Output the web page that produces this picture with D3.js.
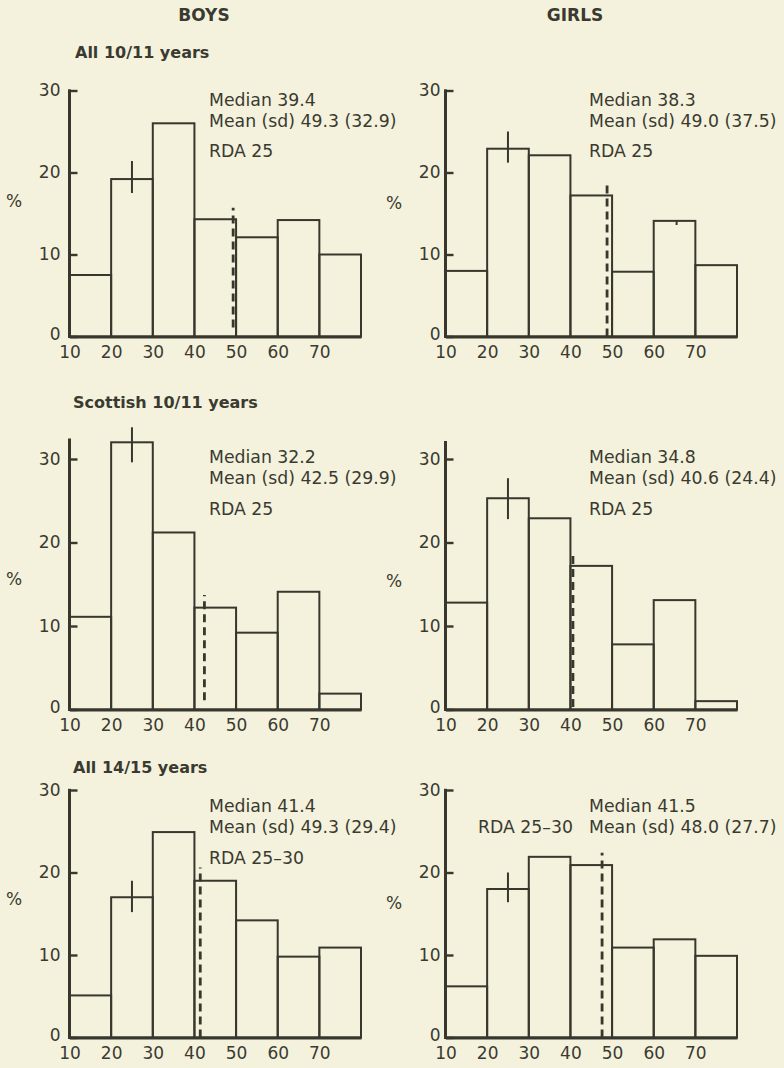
<!DOCTYPE html>
<html>
<head>
<meta charset="utf-8">
<script src="https://cdn.jsdelivr.net/npm/d3@7"></script>
<style>
  html, body { margin: 0; padding: 0; background: #f4f2dc; }
  svg { display: block; }
  text { font-family: "DejaVu Sans", sans-serif; fill: #3a3a31; }
</style>
</head>
<body>
<svg id="chart" width="784" height="1068"></svg>
<script>
// ---------- data ----------
const columnTitles = ["BOYS", "GIRLS"];
const rowTitles = ["All 10/11 years", "Scottish 10/11 years", "All 14/15 years"];
const binEdges = [10, 20, 30, 40, 50, 60, 70, 80];
const xTickLabels = [10, 20, 30, 40, 50, 60, 70];
const yTickValues = [0, 10, 20, 30];

const boysAll1011   = [7.5, 19.2, 26.0, 14.3, 12.1, 14.2, 10.0];
const girlsAll1011  = [8.0, 22.9, 22.1, 17.2, 7.9, 14.1, 8.7];
const boysScot1011  = [11.1, 32.0, 21.2, 12.2, 9.2, 14.1, 1.9];
const girlsScot1011 = [12.8, 25.3, 22.9, 17.2, 7.8, 13.1, 1.0];
const boysAll1415   = [5.1, 17.0, 24.9, 19.0, 14.2, 9.8, 10.9];
const girlsAll1415  = [6.2, 18.0, 21.9, 20.9, 10.9, 11.9, 9.9];

// error bars: [x, low, high]
const boysAll1011Err   = [[25, 17.5, 21.4]];
const girlsAll1011Err  = [[25, 21.2, 25.0], [65.5, 13.6, 14.1]];
const boysScot1011Err  = [[25, 29.6, 33.8]];
const girlsScot1011Err = [[25, 22.8, 27.7]];
const boysAll1415Err   = [[25, 15.2, 19.0]];
const girlsAll1415Err  = [[25, 16.4, 20.0]];

// dashed reference line
const dashX      = [49.3, 48.8, 42.4, 40.6, 41.4, 47.6];
const dashTop    = [15.7, 18.8, 13.7, 18.8, 20.6, 22.4];
const dashBottom = [1.1, 0, 1.1, 0.3, 0, 0];
const axisTops   = [30, 30, 32.3, 32.0, 30, 30];

// statistics
const medians = ["39.4", "38.3", "32.2", "34.8", "41.4", "41.5"];
const means   = ["49.3", "49.0", "42.5", "40.6", "49.3", "48.0"];
const sds     = ["32.9", "37.5", "29.9", "24.4", "29.4", "27.7"];
const rdas    = ["25", "25", "25", "25", "25\u201330", "25\u201330"];

const panelValues = [boysAll1011, girlsAll1011, boysScot1011, girlsScot1011, boysAll1415, girlsAll1415];
const panelErrors = [boysAll1011Err, girlsAll1011Err, boysScot1011Err, girlsScot1011Err, boysAll1415Err, girlsAll1415Err];

// ---------- layout ----------
const colAxisX = [69.5, 445.5];
const colWidth = 291.5;
const colYLabelGap = [9, 5];
const colPctX = [14, 394];
const colStatX = [209, 589];
const colTitleX = [204, 575];
const rowY0 = [336.5, 709.5, 1037.5];
const rowY30 = [90.5, 459, 790];
const rowTitleY = [58, 408, 773];
const rowTitleX = [75, 73, 73];
const rowPctY = [[201, 203], [579, 581], [899, 903]];
const rowStatY = [[106, 127, 157], [463, 484, 515], [812, 833, 864]];

const ink = "#37372e";
const svg = d3.select("#chart");

// column headings
columnTitles.forEach((t, c) => {
  svg.append("text").attr("x", colTitleX[c]).attr("y", 21)
    .attr("text-anchor", "middle").attr("font-size", 17).attr("font-weight", "bold")
    .text(t);
});
// row titles
rowTitles.forEach((t, r) => {
  svg.append("text").attr("x", rowTitleX[r]).attr("y", rowTitleY[r])
    .attr("font-size", 16).attr("font-weight", "bold").text(t);
});

panelValues.forEach((vals, i) => {
  const r = Math.floor(i / 2), c = i % 2;
  const x = d3.scaleLinear().domain([binEdges[0], binEdges[binEdges.length - 1]])
    .range([colAxisX[c], colAxisX[c] + colWidth]);
  const y = d3.scaleLinear().domain([0, 30]).range([rowY0[r], rowY30[r]]);
  const g = svg.append("g");

  // bars
  g.selectAll("rect.bar").data(vals).enter().append("rect")
    .attr("class", "bar")
    .attr("x", (d, k) => x(binEdges[k]))
    .attr("width", (d, k) => x(binEdges[k + 1]) - x(binEdges[k]))
    .attr("y", d => y(d))
    .attr("height", d => y(0) - y(d))
    .attr("fill", "none").attr("stroke", ink).attr("stroke-width", 2);

  // error bars
  g.selectAll("line.err").data(panelErrors[i]).enter().append("line")
    .attr("x1", d => x(d[0])).attr("x2", d => x(d[0]))
    .attr("y1", d => y(d[1])).attr("y2", d => y(d[2]))
    .attr("stroke", ink).attr("stroke-width", 2);

  // dashed line
  g.append("line")
    .attr("x1", x(dashX[i])).attr("x2", x(dashX[i]))
    .attr("y1", y(dashBottom[i])).attr("y2", y(dashTop[i]))
    .attr("stroke", ink).attr("stroke-width", 2.8)
    .attr("stroke-dasharray", "8,5");

  // x axis
  const xAxis = d3.axisBottom(x).tickValues(xTickLabels).tickSize(0).tickPadding(9)
    .tickFormat(d3.format("d"));
  const gx = g.append("g").attr("transform", `translate(0,${y(0)})`).call(xAxis);
  gx.select(".domain").attr("stroke", ink).attr("stroke-width", 3);
  gx.selectAll("text").attr("font-size", 17).attr("fill", ink)
    .style("font-family", "'DejaVu Sans', sans-serif");

  // y axis (ticks to the right, labels left)
  const yAxis = d3.axisRight(y).tickValues(yTickValues).tickSize(8).tickFormat(d3.format("d"));
  const gy = g.append("g").attr("transform", `translate(${colAxisX[c]},0)`).call(yAxis);
  gy.select(".domain").remove();
  gy.selectAll(".tick line").attr("stroke", ink).attr("stroke-width", 2.4);
  gy.selectAll(".tick text").attr("x", -colYLabelGap[c]).attr("text-anchor", "end")
    .attr("font-size", 17).attr("fill", ink)
    .attr("dy", d => d === 0 ? "0.2em" : "0.32em")
    .style("font-family", "'DejaVu Sans', sans-serif");
  g.append("line")
    .attr("x1", colAxisX[c]).attr("x2", colAxisX[c])
    .attr("y1", y(0) + 1.5).attr("y2", y(axisTops[i]) - 1.2)
    .attr("stroke", ink).attr("stroke-width", 3);

  // % label
  g.append("text").attr("x", colPctX[c]).attr("y", rowPctY[r][c]).attr("dy", "0.35em")
    .attr("text-anchor", "middle").attr("font-size", 17).text("%");

  // stats
  const sy = rowStatY[r];
  g.append("text").attr("x", colStatX[c]).attr("y", sy[0]).attr("font-size", 17.3)
    .text("Median " + medians[i]);
  g.append("text").attr("x", colStatX[c]).attr("y", sy[1]).attr("font-size", 17.3)
    .text("Mean (sd) " + means[i] + " (" + sds[i] + ")");
  if (i === 5) {
    g.append("text").attr("x", 573).attr("y", sy[1]).attr("font-size", 17.3)
      .attr("text-anchor", "end").text("RDA " + rdas[i]);
  } else {
    g.append("text").attr("x", colStatX[c]).attr("y", sy[2]).attr("font-size", 17.3)
      .text("RDA " + rdas[i]);
  }
});
</script>
</body>
</html>
